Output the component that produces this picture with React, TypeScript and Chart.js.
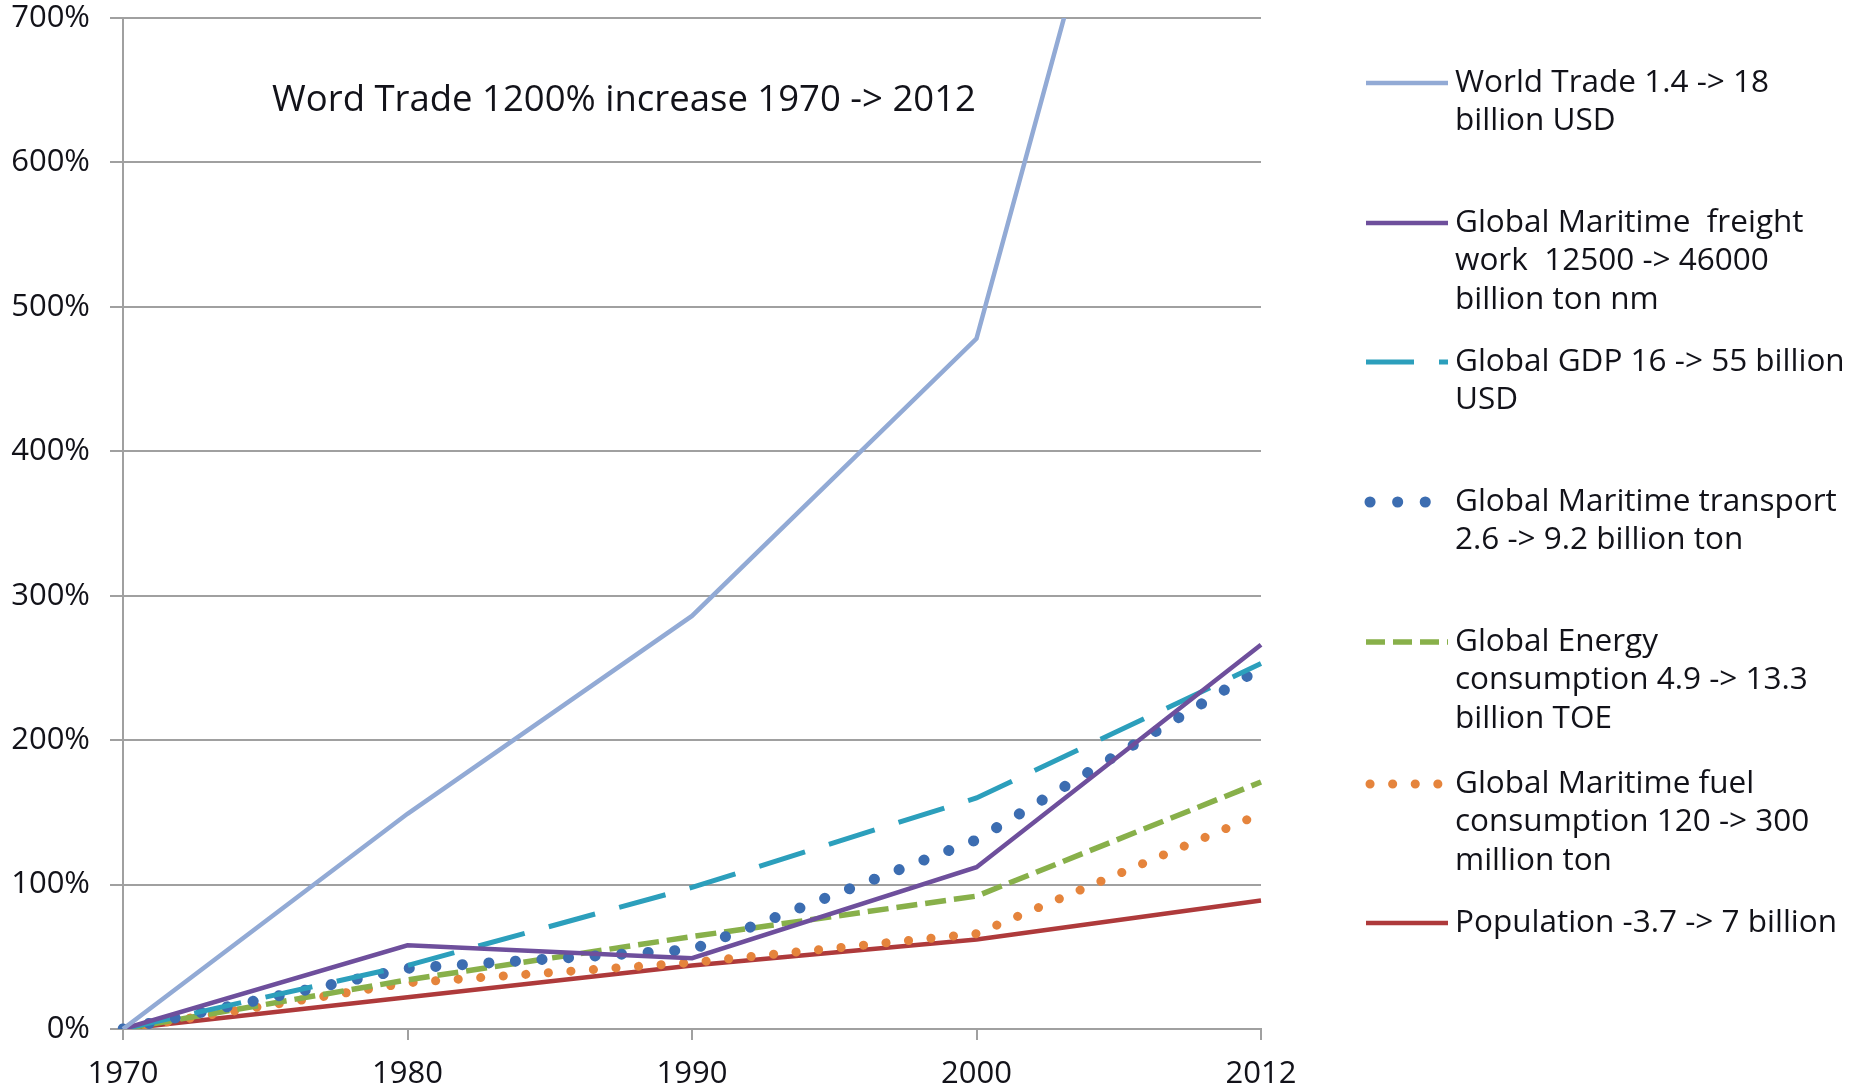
import React, { useEffect, useRef } from 'react';
import { Chart, registerables } from 'chart.js';

Chart.register(...registerables);

// ---- data ----
const categories = ['1970', '1980', '1990', '2000', '2012'];
const worldTrade = [0, 149, 286, 478, 1200];
const freightWork = [0, 58, 49, 112, 266];
const globalGdp = [0, 44, 98, 160, 253];
const maritimeTransport = [0, 42, 55, 131, 250];
const energyConsumption = [0, 34, 64, 92, 171];
const fuelConsumption = [0, 32, 46, 66, 149];
const population = [0, 22, 44, 62, 89];

const yMin = 0;
const yMax = 700;
const yStep = 100;

const seriesLabels: string[][] = [
  ['World Trade 1.4 -> 18', 'billion USD'],
  ['Global Maritime  freight', 'work  12500 -> 46000', 'billion ton nm'],
  ['Global GDP 16 -> 55 billion', 'USD'],
  ['Global Maritime transport', '2.6 -> 9.2 billion ton'],
  ['Global Energy', 'consumption 4.9 -> 13.3', 'billion TOE'],
  ['Global Maritime fuel', 'consumption 120 -> 300', 'million ton'],
  ['Population -3.7 -> 7 billion'],
];

const annotationText = 'Word Trade 1200% increase 1970 -> 2012';

const FONT = "'Open Sans', 'DejaVu Sans', sans-serif";
const TEXT_COLOR = '#121219';
const GRID_COLOR = '#a0a0a0';

const legendPlugin = {
  id: 'sideLegend',
  afterDraw(chart: any) {
    const ctx = chart.ctx as CanvasRenderingContext2D;
    const firstLineY = [83, 223, 362, 502, 642, 784, 923];
    const lineGap = 38.5;
    const sx0 = 1366;
    const sx1 = 1448;
    chart.data.datasets.forEach((ds: any, i: number) => {
      const y = firstLineY[i];
      const dotted = ds.borderCapStyle === 'round';
      ctx.save();
      ctx.beginPath();
      ctx.rect(sx0 - 8, y - 12, sx1 - sx0 + 8, 24);
      ctx.clip();
      ctx.strokeStyle = ds.borderColor;
      ctx.lineWidth = ds.borderWidth;
      ctx.lineCap = ds.borderCapStyle || 'butt';
      ctx.setLineDash(ds.legendDash || ds.borderDash || []);
      ctx.beginPath();
      ctx.moveTo(dotted ? sx0 + 4 : sx0, y);
      ctx.lineTo(sx1, y);
      ctx.stroke();
      ctx.restore();

      ctx.save();
      ctx.fillStyle = TEXT_COLOR;
      ctx.font = `31.5px ${FONT}`;
      ctx.textBaseline = 'middle';
      ctx.textAlign = 'left';
      seriesLabels[i].forEach((t, j) => {
        ctx.fillText(t, 1455, y + j * lineGap);
      });
      ctx.restore();
    });
  },
};

const annotationPlugin = {
  id: 'chartNote',
  afterDraw(chart: any) {
    const ctx = chart.ctx as CanvasRenderingContext2D;
    ctx.save();
    ctx.fillStyle = TEXT_COLOR;
    ctx.font = `36.5px ${FONT}`;
    ctx.textAlign = 'center';
    ctx.textBaseline = 'middle';
    ctx.fillText(annotationText, 624, 101);
    ctx.restore();
  },
};

export default function App() {
  const canvasRef = useRef<HTMLCanvasElement | null>(null);

  useEffect(() => {
    document.body.style.margin = '0';
    const canvas = canvasRef.current;
    if (!canvas) return;

    const chart = new Chart(canvas, {
      type: 'line',
      data: {
        labels: categories,
        datasets: [
          {
            label: seriesLabels[0].join(' '),
            data: worldTrade,
            borderColor: '#92aad5',
            borderWidth: 4.5,
            pointRadius: 0,
            tension: 0,
          },
          {
            label: seriesLabels[1].join(' '),
            data: freightWork,
            borderColor: '#6e4f9c',
            borderWidth: 4.5,
            pointRadius: 0,
            tension: 0,
          },
          {
            label: seriesLabels[2].join(' '),
            data: globalGdp,
            borderColor: '#2c9fbc',
            borderWidth: 5,
            borderDash: [48, 25],
            pointRadius: 0,
            tension: 0,
          },
          {
            label: seriesLabels[3].join(' '),
            data: maritimeTransport,
            borderColor: '#3c6db1',
            borderWidth: 11,
            borderDash: [0.1, 26.5],
            legendDash: [0.1, 27.5],
            borderCapStyle: 'round',
            pointRadius: 0,
            tension: 0,
          } as any,
          {
            label: seriesLabels[4].join(' '),
            data: energyConsumption,
            borderColor: '#88b04a',
            borderWidth: 5.5,
            borderDash: [21, 8],
            legendDash: [19, 8],
            pointRadius: 0,
            tension: 0,
          } as any,
          {
            label: seriesLabels[5].join(' '),
            data: fuelConsumption,
            borderColor: '#e5843c',
            borderWidth: 9,
            borderDash: [0.1, 22.5],
            legendDash: [0.1, 22.5],
            borderCapStyle: 'round',
            pointRadius: 0,
            tension: 0,
          } as any,
          {
            label: seriesLabels[6].join(' '),
            data: population,
            borderColor: '#ae3a3b',
            borderWidth: 4.5,
            pointRadius: 0,
            tension: 0,
          },
        ],
      },
      options: {
        responsive: false,
        animation: false,
        layout: { padding: { left: 0, right: 597, top: 18, bottom: 0 } },
        plugins: {
          legend: { display: false },
          title: { display: false },
          tooltip: { enabled: false },
        },
        scales: {
          x: {
            type: 'category',
            offset: false,
            grid: {
              display: true,
              drawOnChartArea: false,
              drawTicks: true,
              tickLength: 11,
              color: GRID_COLOR,
              lineWidth: 2,
            },
            border: { display: true, color: GRID_COLOR, width: 2 },
            ticks: {
              color: TEXT_COLOR,
              font: { family: FONT, size: 31 },
              padding: 16,
              maxRotation: 0,
              autoSkip: false,
            },
            afterFit(scale: any) {
              scale.height = 54;
              scale.paddingLeft = 0;
              scale.paddingRight = 0;
            },
          },
          y: {
            min: yMin,
            max: yMax,
            grid: {
              color: GRID_COLOR,
              lineWidth: 2,
              drawTicks: true,
              tickLength: 13,
            },
            border: { display: true, color: GRID_COLOR, width: 2 },
            ticks: {
              stepSize: yStep,
              color: TEXT_COLOR,
              font: { family: FONT, size: 31 },
              padding: 20,
              callback: (v: any) => `${v}%`,
            },
            afterFit(scale: any) {
              scale.width = 123;
              scale.paddingTop = 0;
              scale.paddingBottom = 0;
            },
          },
        },
      },
      plugins: [legendPlugin, annotationPlugin],
    });

    return () => {
      chart.destroy();
    };
  }, []);

  return (
    <div style={{ position: 'fixed', left: 0, top: 0, width: 1858, height: 1083, background: '#ffffff' }}>
      <canvas ref={canvasRef} width={1858} height={1083} style={{ display: 'block' }} />
    </div>
  );
}
